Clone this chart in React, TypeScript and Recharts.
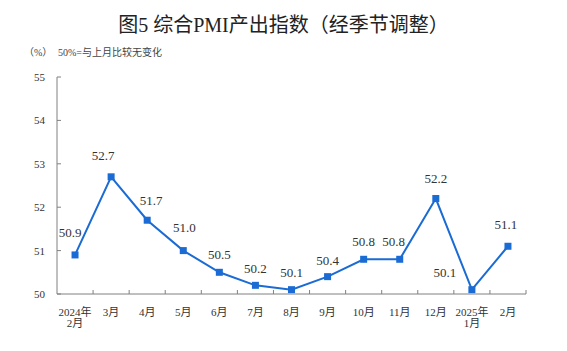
import React from 'react'
import { LineChart, Line, XAxis, YAxis, LabelList } from 'recharts'

// 月份（X轴）
const months = [
  '2024年2月', '3月', '4月', '5月', '6月', '7月', '8月',
  '9月', '10月', '11月', '12月', '2025年1月', '2月',
]

// 综合PMI产出指数（%）
const pmiOutput = [50.9, 52.7, 51.7, 51.0, 50.5, 50.2, 50.1, 50.4, 50.8, 50.8, 52.2, 50.1, 51.1]

const yTicks = [50, 51, 52, 53, 54, 55]

// 数据标签相对数据点的偏移
const labelShift: [number, number][] = [
  [-5, -22], [-8, -21], [4, -19], [1, -23], [0, -17], [0, -16], [0, -17],
  [0, -16], [0, -17], [-6, -17], [0, -20], [-27, -17], [-2, -21],
]

const W = 567
const H = 351
const PLOT_LEFT = 57
const PLOT_RIGHT = 526
const PLOT_TOP = 77
const PLOT_BOTTOM = 294
const AXIS = '#808080'
const BLUE = '#1b6bd4'
const SERIF = '"Liberation Serif", "Times New Roman", "Noto Sans CJK SC", serif'

const data = months.map((m, i) => ({ month: m, value: pmiOutput[i] }))
const halfBand = (PLOT_RIGHT - PLOT_LEFT) / months.length / 2

const XTick = (props: any) => {
  const { x, y, payload } = props
  const label: string = payload.value
  const idx = label.indexOf('年')
  const lines = idx >= 0 ? [label.slice(0, idx + 1), label.slice(idx + 1)] : [label]
  return (
    <g>
      <line x1={x + halfBand} x2={x + halfBand} y1={y} y2={y - 4} stroke={AXIS} />
      {lines.map((t, i) => (
        <text key={i} x={x} y={y + 22 + i * 11} textAnchor="middle" fontSize={11} fill="#333" fontFamily={SERIF}>
          {t}
        </text>
      ))}
    </g>
  )
}

const YTick = (props: any) => {
  const { x, y, payload } = props
  return (
    <g>
      <line x1={x} x2={x + 4} y1={y} y2={y} stroke={AXIS} />
      <text x={x - 12} y={y + 4} textAnchor="end" fontSize={11} fill="#333" fontFamily={SERIF}>
        {payload.value}
      </text>
    </g>
  )
}

const SquareDot = (props: any) => {
  const { cx, cy, index } = props
  if (cx == null || cy == null) return <g key={index} />
  return <rect key={index} x={cx - 3.5} y={cy - 3.5} width={7} height={7} fill={BLUE} />
}

const ValueLabel = (props: any) => {
  const { x, y, value, index } = props
  const [dx, dy] = labelShift[index] || [0, -18]
  return (
    <text x={x + dx} y={y + dy + 4} textAnchor="middle" fontSize={13} fill="#333" fontFamily={SERIF}>
      {Number(value).toFixed(1)}
    </text>
  )
}

export default function App() {
  return (
    <div style={{ position: 'absolute', left: 0, top: 0, width: W, height: H, background: '#fff' }}>
      <div
        style={{
          position: 'absolute', left: 0, top: 11, width: W, textAlign: 'center',
          fontSize: 20, color: '#222', fontFamily: SERIF, lineHeight: '28px',
        }}
      >
        图5 综合PMI产出指数（经季节调整）
      </div>
      <div style={{ position: 'absolute', left: 24, top: 46, fontSize: 10, color: '#444', fontFamily: SERIF, lineHeight: '13px' }}>
        （%）
      </div>
      <div style={{ position: 'absolute', left: 58, top: 46, fontSize: 10, color: '#444', fontFamily: SERIF, lineHeight: '13px' }}>
        50%=与上月比较无变化
      </div>
      <LineChart
        width={W}
        height={H}
        data={data}
        margin={{ top: PLOT_TOP, right: W - PLOT_RIGHT, bottom: 0, left: 0 }}
        style={{ position: 'absolute', left: 0, top: 0 }}
      >
        <XAxis
          dataKey="month"
          height={H - PLOT_BOTTOM}
          interval={0}
          padding={{ left: halfBand, right: halfBand }}
          tickSize={0}
          tickMargin={0}
          tickLine={false}
          axisLine={{ stroke: AXIS }}
          tick={<XTick />}
        />
        <XAxis xAxisId="top" orientation="top" dataKey="month" height={0} tick={false} tickLine={false} axisLine={{ stroke: AXIS }} />
        <YAxis
          domain={[50, 55]}
          ticks={yTicks}
          width={PLOT_LEFT}
          tickSize={0}
          tickMargin={0}
          tickLine={false}
          axisLine={{ stroke: AXIS }}
          tick={<YTick />}
        />
        <YAxis yAxisId="right" orientation="right" width={0} domain={[50, 55]} tick={false} tickLine={false} axisLine={{ stroke: AXIS }} />
        <Line
          type="linear"
          dataKey="value"
          stroke={BLUE}
          strokeWidth={2}
          dot={<SquareDot />}
          activeDot={false}
          isAnimationActive={false}
        >
          <LabelList dataKey="value" content={<ValueLabel />} />
        </Line>
      </LineChart>
    </div>
  )
}
